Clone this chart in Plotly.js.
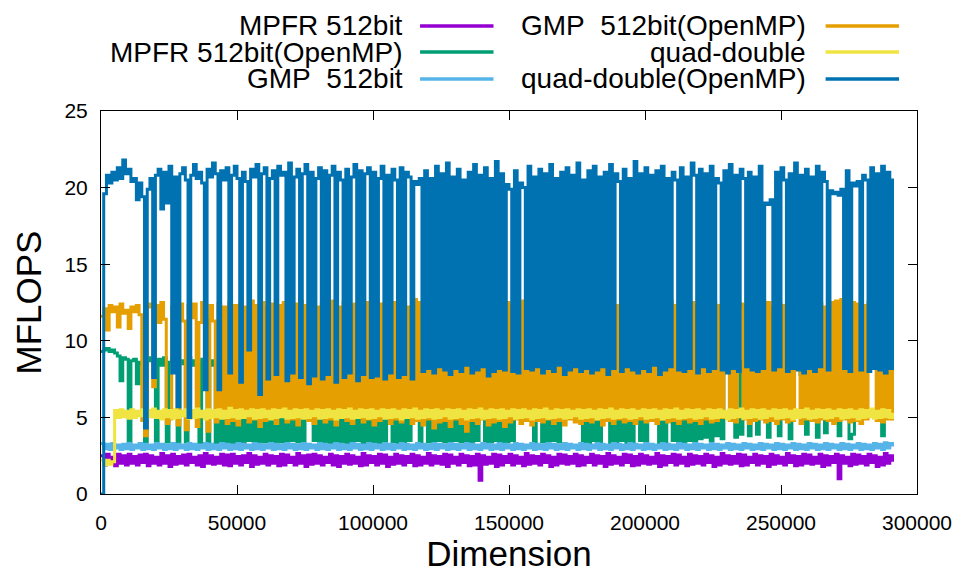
<!DOCTYPE html>
<html>
<head>
<meta charset="utf-8">
<script src="https://cdn.plot.ly/plotly-3.0.1.min.js"></script>
<style>html,body{margin:0;padding:0;background:#fff;}#chart{width:965px;height:573px;}</style>
</head>
<body>
<div id="chart"></div>
<script>
// Dimension sampling step (x = index * STEP)
const STEP = 1000;

const seriesNames = ["MPFR 512bit", "MPFR 512bit(OpenMP)", "GMP\u00a0 512bit",
                     "GMP\u00a0 512bit(OpenMP)", "quad-double", "quad-double(OpenMP)"];
const seriesColors = ["#9400D3", "#009E73", "#56B4E9", "#E69F00", "#F0E442", "#0072B2"];

const xTicks = [0, 50000, 100000, 150000, 200000, 250000, 300000];
const yTicks = [0, 5, 10, 15, 20, 25];

// MPFR 512bit
const mpfr = [
2.5,1.9,2.6,2.0,2.4,1.85,2.6,2.0,2.5,1.9,
2.6,2.0,2.45,1.9,2.55,2.05,2.6,1.85,2.5,2.0,
2.4,1.9,2.65,2.0,2.5,1.8,2.6,1.95,2.45,2.0,
2.55,1.9,2.6,2.05,2.4,1.9,2.5,1.8,2.65,2.0,
2.5,1.95,2.4,2.0,2.6,1.9,2.55,1.85,2.6,2.0,
2.45,1.9,2.5,2.05,2.65,1.8,2.5,1.95,2.4,2.0,
2.6,1.9,2.5,2.0,2.45,1.85,2.6,1.9,2.55,2.05,
2.4,1.9,2.65,2.0,2.5,1.8,2.55,1.95,2.6,2.0,
2.5,1.9,2.4,2.05,2.6,1.9,2.5,1.8,2.45,2.0,
2.6,1.95,2.5,2.0,2.4,1.85,2.65,1.9,2.5,2.05,
2.45,1.9,2.6,2.0,2.55,1.8,2.4,1.95,2.6,2.0,
2.5,1.9,2.45,2.05,2.6,1.85,2.5,1.9,2.4,2.0,
2.65,1.9,2.5,2.0,2.45,1.95,2.6,1.8,2.55,2.0,
2.4,1.9,2.6,2.05,2.5,1.85,2.45,1.9,2.6,0.9,
2.5,1.95,2.4,2.0,2.6,1.8,2.55,1.9,2.45,2.05,
2.6,1.9,2.5,2.0,2.4,1.85,2.65,1.95,2.5,2.0,
2.45,1.9,2.6,2.05,2.5,1.8,2.4,1.9,2.6,2.0,
2.55,1.95,2.45,2.0,2.6,1.85,2.5,1.9,2.4,2.05,
2.6,1.9,2.5,2.0,2.45,1.8,2.65,1.95,2.5,2.0,
2.4,1.9,2.6,2.05,2.55,1.85,2.45,1.9,2.6,2.0,
2.5,1.95,2.4,2.0,2.65,1.8,2.5,1.9,2.45,2.05,
2.6,1.9,2.55,2.0,2.4,1.85,2.6,1.95,2.5,2.0,
2.45,1.9,2.6,2.05,2.5,1.8,2.4,1.9,2.65,2.0,
2.5,1.95,2.45,2.0,2.6,1.85,2.55,1.9,2.4,2.05,
2.6,1.9,2.5,2.0,2.45,1.8,2.6,1.95,2.5,2.0,
2.4,1.9,2.65,2.05,2.5,1.85,2.45,1.9,2.6,2.0,
2.55,1.95,2.4,2.0,2.6,1.8,2.5,1.9,2.45,2.05,
2.6,1.0,2.5,2.0,2.4,1.85,2.6,1.95,2.55,2.0,
2.45,1.9,2.6,2.05,2.5,1.8,2.4,1.9,2.65,2.0,
2.5,2.1];

// MPFR 512bit(OpenMP)
const mpfrOmp = [
9.3,9.4,9.5,9.3,9.4,9.2,9.0,7.4,8.9,8.8,
3.4,8.7,8.8,7.2,8.6,8.5,3.4,8.7,8.9,8.5,
3.3,8.8,8.4,8.9,3.4,8.6,8.8,8.3,3.3,8.7,
8.5,3.4,8.9,8.4,8.7,8.6,3.3,8.8,8.5,3.4,
8.7,8.4,3.3,8.8,3.5,8.6,3.4,8.9,3.3,8.5,
3.4,8.7,3.3,8.6,3.5,8.8,3.4,8.5,3.3,8.7,
3.4,8.6,3.5,8.8,3.3,8.5,3.4,8.7,3.3,8.6,
3.5,8.8,3.4,8.5,3.3,8.7,8.4,8.6,3.5,8.8,
3.3,8.5,3.4,8.7,3.3,8.6,3.5,8.8,3.4,8.5,
3.3,8.7,3.4,8.6,3.5,8.8,3.3,8.5,3.4,8.7,
3.4,8.6,3.3,8.8,3.5,8.5,8.7,3.4,8.6,3.3,
8.8,3.4,8.5,3.5,8.7,8.6,8.4,3.3,8.8,8.5,
3.4,8.6,3.3,8.7,3.5,8.5,3.4,8.8,3.3,8.6,
3.5,8.7,3.4,8.5,3.3,8.8,3.4,8.6,3.5,8.7,
8.5,3.3,8.8,3.4,8.6,3.5,8.7,3.3,8.5,3.4,
8.8,3.5,8.6,8.7,8.5,8.8,8.6,8.4,8.7,3.3,
8.5,8.8,3.4,8.6,3.3,8.7,3.5,8.5,3.4,8.8,
8.6,8.7,8.5,8.8,8.6,8.4,8.7,3.4,8.5,3.3,
8.7,3.5,8.6,3.4,8.8,8.5,8.7,3.3,8.6,3.4,
8.8,3.5,8.5,3.3,8.7,3.4,8.6,8.8,3.5,8.5,
3.4,8.7,8.6,8.5,8.8,3.3,8.6,3.4,8.7,8.5,
3.5,8.8,3.4,8.6,3.3,8.7,3.5,8.5,3.4,8.8,
3.6,8.6,3.7,8.7,3.5,8.5,3.8,8.8,3.6,8.6,
8.7,8.5,8.8,3.7,8.6,3.9,8.7,8.5,3.8,8.6,
8.8,3.9,8.5,8.7,8.6,3.7,8.4,8.8,8.6,3.8,
8.5,8.7,8.6,3.6,8.8,8.5,8.3,7.8,8.4,3.9,
8.6,8.7,8.5,3.7,8.8,8.6,4.0,8.5,8.7,8.4,
8.6,3.8,8.5,8.7,8.6,3.6,3.9,8.8,8.5,8.7,
8.6,8.4,8.7,8.5,8.8,8.3,8.6,3.8,8.5,8.2,
7.9,8.3];

// GMP 512bit
const gmp = [
3.3,2.95,3.25,2.9,3.3,3.0,3.2,2.9,3.25,2.95,
3.3,2.9,3.2,3.0,3.3,2.9,3.25,2.95,3.2,2.9,
3.3,3.0,3.25,2.9,3.2,2.95,3.3,2.9,3.25,3.0,
3.2,2.9,3.3,2.95,3.25,2.9,3.2,3.0,3.3,2.9,
3.25,2.95,3.2,2.9,3.3,3.0,3.25,2.9,3.2,2.95,
3.3,2.9,3.25,3.0,3.2,2.9,3.3,2.95,3.25,2.9,
3.2,3.0,3.3,2.9,3.25,2.95,3.2,2.9,3.3,3.0,
3.25,2.9,3.2,2.95,3.3,2.9,3.25,3.0,3.2,2.9,
3.3,2.95,3.25,2.9,3.2,3.0,3.3,2.9,3.25,2.95,
3.2,2.9,3.3,3.0,3.25,2.9,3.2,2.95,3.3,2.9,
3.25,3.0,3.2,2.9,3.3,2.95,3.25,2.9,3.2,3.0,
3.3,2.9,3.25,2.95,3.2,2.9,3.3,3.0,3.25,2.9,
3.2,2.95,3.3,2.9,3.25,3.0,3.2,2.9,3.3,2.95,
3.25,2.9,3.2,3.0,3.3,2.9,3.25,2.95,3.2,2.9,
3.3,3.0,3.25,2.9,3.2,2.95,3.3,2.9,3.25,3.0,
3.2,2.9,3.3,2.95,3.25,2.9,3.2,3.0,3.3,2.9,
3.25,2.95,3.2,2.9,3.3,3.0,3.25,2.9,3.2,2.95,
3.3,2.9,3.25,3.0,3.2,2.9,3.3,2.95,3.25,2.9,
3.2,3.0,3.3,2.9,3.25,2.95,3.2,2.9,3.3,3.0,
3.25,2.9,3.2,2.95,3.3,2.9,3.25,3.0,3.2,2.9,
3.3,2.95,3.25,2.9,3.2,3.0,3.3,2.9,3.25,2.95,
3.2,2.9,3.3,3.0,3.25,2.9,3.2,2.95,3.3,2.9,
3.25,3.0,3.2,2.9,3.3,2.95,3.25,2.9,3.2,3.0,
3.3,2.9,3.25,2.95,3.2,2.9,3.3,3.0,3.25,2.9,
3.2,2.95,3.3,2.9,3.25,3.0,3.2,2.9,3.3,2.95,
3.25,2.9,3.2,3.0,3.3,2.9,3.25,2.95,3.2,2.9,
3.3,3.0,3.25,2.9,3.2,2.95,3.3,2.9,3.25,3.0,
3.2,2.9,3.3,2.95,3.25,2.9,3.2,3.0,3.3,2.9,
3.25,2.95,3.2,2.9,3.3,3.0,3.25,2.9,3.35,3.0,
3.3,3.1];

// GMP 512bit(OpenMP)
const gmpOmp = [
11.6,12.1,10.7,12.3,11.9,12.2,10.9,12.4,11.8,12.0,
10.8,12.2,11.9,12.3,11.7,4.8,3.8,12.2,12.4,7.0,
12.3,11.2,12.5,11.4,4.6,4.9,12.2,11.3,4.5,12.4,
11.3,4.2,12.3,11.5,12.4,4.4,11.2,12.5,11.4,4.1,
12.3,11.3,4.7,12.4,5.0,12.2,4.6,12.5,4.8,12.3,
4.5,12.4,5.1,12.2,4.7,12.6,4.9,12.3,4.4,12.5,
4.8,12.2,5.0,12.4,4.6,12.3,5.2,12.5,4.7,12.2,
4.9,12.4,4.5,12.6,5.0,12.3,4.8,12.5,4.6,12.2,
5.1,12.4,4.7,12.3,4.9,12.6,4.5,12.2,5.0,12.5,
4.8,12.3,4.6,12.4,5.1,12.2,4.7,12.5,4.9,12.3,
4.5,12.6,4.8,12.4,5.0,12.2,4.6,12.5,4.9,12.3,
4.7,12.4,5.0,12.2,4.6,12.7,4.8,12.5,4.5,12.3,
4.9,12.4,4.3,12.2,4.7,12.5,4.8,12.3,4.4,12.6,
4.9,12.2,4.6,12.4,4.1,12.3,4.8,12.5,4.6,12.2,
4.9,12.4,4.5,12.3,4.7,12.6,4.8,12.2,4.4,12.5,
4.7,12.3,4.9,12.4,4.6,12.6,4.8,12.2,4.5,12.4,
4.8,12.3,4.7,12.5,4.9,12.2,4.6,12.4,4.8,12.3,
4.5,12.5,4.9,12.2,4.7,12.4,4.6,12.3,4.8,12.6,
4.7,12.3,4.9,12.4,4.5,12.2,4.8,12.5,4.6,12.3,
4.9,12.4,4.7,12.2,4.8,12.5,4.6,12.3,4.9,12.4,
4.7,12.2,4.8,12.5,4.6,12.3,4.9,12.4,4.7,12.6,
4.8,12.3,4.6,12.4,4.9,12.2,4.7,12.5,4.8,12.3,
4.6,12.4,4.9,12.2,4.7,12.5,4.8,12.3,5.0,12.4,
12.3,4.8,12.5,4.7,12.2,12.4,4.9,12.3,4.6,12.5,
4.8,12.3,4.9,12.6,4.7,12.5,4.8,12.2,4.6,12.4,
4.9,12.3,4.7,12.5,4.8,12.2,12.4,4.6,12.3,4.9,
12.5,4.8,12.3,4.7,12.4,4.9,12.2,4.8,12.5,4.6,
12.6,4.8,12.7,4.9,12.3,4.7,12.5,4.8,12.4,4.6,
12.3,4.9,12.5,12.4,12.3,4.8,12.2,4.7,12.4,4.9,
12.3,4.8];

// quad-double
const qd = [
2.2,1.9,2.2,1.95,2.1,5.45,5.0,5.5,5.05,5.4,
4.95,5.5,5.0,5.4,5.1,5.5,4.95,5.45,5.05,5.55,
5.0,5.4,4.9,5.5,5.05,5.45,4.95,5.5,5.0,5.4,
5.1,5.5,4.95,5.45,5.0,5.55,5.05,5.4,4.9,5.5,
5.0,5.45,5.05,5.5,4.95,5.4,5.0,5.6,5.05,5.45,
4.95,5.5,5.0,5.4,5.1,5.5,4.95,5.45,5.0,5.5,
5.05,5.4,4.9,5.5,5.0,5.45,5.05,5.55,4.95,5.4,
5.0,5.5,5.05,5.45,4.95,5.5,5.0,5.4,5.1,5.5,
4.95,5.45,5.0,5.5,5.05,5.4,4.9,5.5,5.0,5.45,
5.05,5.55,4.95,5.4,5.0,5.5,5.05,5.45,4.95,5.5,
5.0,5.4,5.1,5.5,4.95,5.45,5.0,5.5,5.05,5.4,
4.9,5.5,5.0,5.45,5.05,5.55,4.95,5.4,5.0,5.5,
5.05,5.45,4.95,5.5,5.0,5.4,5.1,5.5,4.95,5.45,
5.0,5.5,5.05,5.4,4.9,5.5,5.0,5.45,5.05,5.55,
4.95,5.4,5.0,5.5,5.05,5.45,4.95,5.5,5.0,5.4,
5.1,5.5,4.95,5.45,5.0,5.5,5.05,5.4,4.9,5.5,
5.0,5.45,5.05,5.55,4.95,5.4,5.0,5.5,5.05,5.45,
4.95,5.5,5.0,5.4,5.1,5.5,4.95,5.45,5.0,5.5,
5.05,5.4,4.9,5.5,5.0,5.45,5.05,5.55,4.95,5.4,
5.0,5.5,5.05,5.45,4.95,5.5,5.0,5.4,5.1,5.5,
4.95,5.45,5.0,5.5,5.05,5.4,4.9,5.5,5.0,5.45,
5.05,5.55,4.95,5.4,5.0,5.5,5.05,5.45,4.95,5.5,
5.0,5.4,5.1,5.5,4.95,5.45,5.0,5.5,5.05,5.4,
4.9,5.5,5.0,5.45,5.05,5.55,4.95,5.4,5.0,5.5,
5.05,5.45,4.95,5.5,5.0,5.4,5.1,5.5,4.95,5.45,
5.0,5.5,5.05,5.4,4.9,5.5,5.0,5.45,5.05,5.55,
4.95,5.4,5.0,5.5,5.05,5.45,4.95,5.5,5.0,5.4,
5.1,5.5,4.95,5.45,5.0,5.5,5.05,5.4,4.9,5.5,
5.0,5.45,5.05,5.55,4.95,5.4,5.0,5.5,5.05,5.45,
5.0,5.3];

// quad-double(OpenMP)
const qdOmp = [
0.0,19.6,20.8,20.3,21.0,20.5,21.3,20.6,21.8,20.9,
21.2,20.4,20.6,19.2,20.3,19.4,4.3,19.9,20.6,7.6,
20.8,21.2,18.6,21.0,19.0,21.4,7.9,20.7,5.7,20.9,
21.3,20.5,5.0,20.8,21.5,20.6,21.0,20.3,6.8,21.2,
20.7,21.6,20.9,6.8,21.1,20.5,21.3,7.9,20.8,21.4,
20.6,7.3,21.0,20.4,9.4,21.2,20.7,21.5,6.5,20.9,
21.3,7.5,20.6,21.1,7.8,21.4,20.8,21.0,7.4,21.6,
7.9,20.7,21.2,7.6,20.9,21.5,7.2,21.0,7.7,20.6,
21.3,7.5,21.1,7.8,20.8,21.4,7.3,21.0,20.5,7.6,
21.2,7.9,20.7,21.5,7.4,21.1,7.8,20.9,21.3,7.6,
21.0,7.7,20.6,21.4,7.5,20.8,7.9,21.2,20.5,7.6,
21.3,7.8,21.0,20.7,7.5,20.4,20.2,20.6,8.0,21.1,
8.2,20.6,7.9,21.4,8.3,20.9,8.1,21.6,7.8,20.7,
8.2,21.2,8.0,20.5,8.4,21.0,7.9,21.5,8.1,20.8,
8.3,21.3,7.7,20.6,8.0,21.7,8.2,20.9,8.1,20.2,
19.9,8.0,21.1,7.9,20.3,20.0,8.2,21.4,8.1,20.7,
8.3,21.2,7.9,20.9,8.2,21.5,8.0,20.6,8.4,21.0,
7.8,21.3,8.1,20.8,8.3,21.6,8.0,20.5,8.2,21.1,
7.9,21.4,8.1,20.7,8.3,21.0,7.8,21.5,8.2,20.9,
20.4,8.0,21.2,8.3,20.6,8.1,21.7,7.9,20.9,8.2,
21.3,8.0,20.8,8.4,21.1,7.8,21.4,8.1,20.6,8.3,
21.0,20.5,8.1,21.3,8.0,20.7,8.2,21.6,20.8,7.9,
21.2,8.3,20.9,8.0,21.4,8.2,20.6,20.3,8.1,21.1,
7.9,21.5,8.2,20.8,8.0,21.2,20.6,8.3,21.0,8.1,
20.7,8.0,21.4,8.2,19.0,18.9,19.2,8.1,21.0,8.3,
21.3,20.5,8.0,20.9,8.2,21.6,8.1,20.8,7.9,21.2,
8.2,20.7,8.0,21.4,8.3,21.0,20.4,8.1,19.8,19.6,
19.7,19.5,19.9,8.2,21.1,8.0,20.3,20.1,20.4,8.1,
20.8,20.5,8.0,21.3,8.2,20.9,8.1,21.4,7.9,21.0,
8.2,20.6];

const FONT = "Liberation Sans, Arial, sans-serif";
const series = [mpfr, mpfrOmp, gmp, gmpOmp, qd, qdOmp];

const traces = series.map((ys, k) => ({
  type: "scatter",
  mode: "lines",
  name: seriesNames[k],
  x: ys.map((_, i) => i * STEP),
  y: ys,
  line: { color: seriesColors[k], width: 3, shape: "hv", simplify: false },
  hoverinfo: "skip"
}));

// Manual legend (gnuplot style: right-aligned text, sample on the right)
const legendCols = [
  { textX: 0.373, lineX0: 0.391, lineX1: 0.481 },
  { textX: 0.866, lineX0: 0.888, lineX1: 0.978 }
];
const legendRowsY = [1.222, 1.154, 1.0836];
const annotations = [];
const shapes = [];
seriesNames.forEach((nm, k) => {
  const col = legendCols[Math.floor(k / 3)];
  const y = legendRowsY[k % 3];
  annotations.push({
    xref: "paper", yref: "paper", x: col.textX, y: y,
    xanchor: "right", yanchor: "middle", showarrow: false,
    text: nm, font: { family: FONT, size: 28, color: "#000" }
  });
  shapes.push({
    type: "line", xref: "paper", yref: "paper",
    x0: col.lineX0, x1: col.lineX1, y0: y, y1: y,
    line: { color: seriesColors[k], width: 3.5 }
  });
});

const layout = {
  width: 965, height: 573,
  margin: { l: 101, r: 48, t: 111, b: 79 },
  paper_bgcolor: "#fff", plot_bgcolor: "#fff",
  showlegend: false,
  font: { family: FONT, color: "#000" },
  xaxis: {
    range: [0, 300000], tickvals: xTicks, ticktext: xTicks.map(String),
    ticks: "inside", ticklen: 9, tickwidth: 1, tickcolor: "#000",
    showline: true, linecolor: "#000", linewidth: 1, mirror: "ticks",
    showgrid: false, zeroline: false,
    tickfont: { family: FONT, size: 21, color: "#000" },
    ticklabelstandoff: 10,
    title: { text: "Dimension", font: { family: FONT, size: 35, color: "#000" }, standoff: 12 }
  },
  yaxis: {
    range: [0, 25], tickvals: yTicks, ticktext: yTicks.map(String),
    ticks: "inside", ticklen: 9, tickwidth: 1, tickcolor: "#000",
    showline: true, linecolor: "#000", linewidth: 1, mirror: "ticks",
    showgrid: false, zeroline: false,
    tickfont: { family: FONT, size: 21, color: "#000" },
    ticklabelstandoff: 8,
    title: { text: "MFLOPS", font: { family: FONT, size: 35, color: "#000" }, standoff: 12 }
  },
  annotations: annotations,
  shapes: shapes
};

Plotly.newPlot("chart", traces, layout, { staticPlot: true, displayModeBar: false });
</script>
</body>
</html>
